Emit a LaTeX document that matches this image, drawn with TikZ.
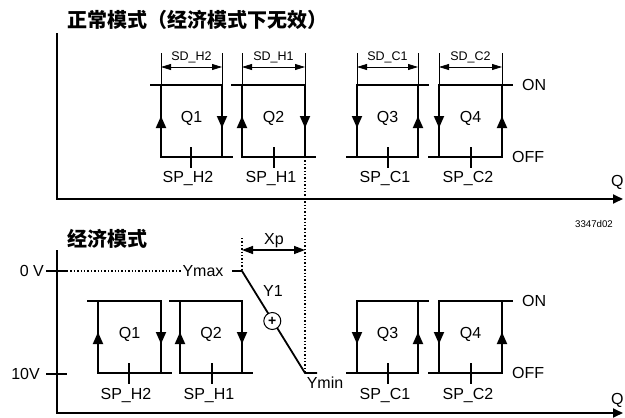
\documentclass[tikz,border=0pt]{standalone}
\usepackage{fontspec}
\setmainfont{Liberation Sans}
\newfontfamily\cjk{Noto Sans CJK SC}
\usetikzlibrary{arrows.meta}

\begin{document}
\begin{tikzpicture}[x=1pt, y=-1pt,
  axis/.style={line width=1.8pt, -{Triangle[length=10pt,width=9pt]}},
  loopline/.style={line width=1.8pt},
  sidearr/.style={line width=1.8pt, -{Triangle[length=12pt,width=10pt]}},
  dim/.style={line width=0.7pt},
  dimarr/.style={line width=0.8pt, {Triangle[length=10pt,width=6pt]}-{Triangle[length=10pt,width=6pt]}},
  spmark/.style={line width=1.2pt},
  guide/.style={dotted, line width=1.4pt},
  lbl/.style={font=\fontsize{16}{18}\selectfont, inner sep=0pt},
  small/.style={font=\fontsize{12.5}{14}\selectfont, inner sep=0pt},
  ttl/.style={font=\cjk\bfseries\fontsize{20}{22}\selectfont, inner sep=0pt, anchor=west},
]
  \useasboundingbox (0,0) rectangle (625,418);

  % titles
  \node[ttl] (ttlnorm) at (67,20) {正常模式（经济模式下无效）};
  \node[ttl] (ttleco)  at (67,239) {经济模式};
  \node[font=\fontsize{9.7}{11}\selectfont, inner sep=0pt] (figno) at (594,224) {3347d02};

  % axes
  \draw[axis] (57,33) -- (57,199) -- (623,199);
  \draw[axis] (57,250) -- (57,413) -- (623,413);
  \node[lbl, anchor=west] (qtop) at (611,182) {Q};
  \node[lbl, anchor=west] (qbot) at (611,400) {Q};

  % heating stages
  \foreach \nm/\l/\r/\sp/\t/\b/\lab/\s in {a/161/222/191/85/157/Q1/H2, b/242/305/274/85/157/Q2/H1,
      e/98/161/129/301/373/Q1/H2, f/180/242/212/301/373/Q2/H1} {
    \draw[loopline] (\l,\t) rectangle (\r,\b);
    \draw[loopline] (\l-11,\t) -- (\l,\t) (\r,\b) -- (\r+11,\b);
    \draw[sidearr] (\l,{(\t+\b)/2+7}) -- (\l,{(\t+\b)/2-5});
    \draw[sidearr] (\r,{(\t+\b)/2-5}) -- (\r,{(\t+\b)/2+7});
    \draw[spmark] (\sp,\b-10) -- (\sp,\b+11);
    \node[lbl] (box\nm) at ({(\l+\r)/2},{(\t+\b)/2-3}) {\lab};
    \node[lbl] (sp\nm) at (\sp-3,\b+22) {SP\_\s};
  }

  % cooling stages
  \foreach \nm/\l/\r/\sp/\t/\b/\lab/\s in {c/357/418/388/85/157/Q3/C1, d/439/502/471/85/157/Q4/C2,
      g/357/418/388/301/373/Q3/C1, h/439/502/471/301/373/Q4/C2} {
    \draw[loopline] (\l,\t) rectangle (\r,\b);
    \draw[loopline] (\r,\t) -- (\r+11,\t) (\l-11,\b) -- (\l,\b);
    \draw[sidearr] (\l,{(\t+\b)/2-5}) -- (\l,{(\t+\b)/2+7});
    \draw[sidearr] (\r,{(\t+\b)/2+7}) -- (\r,{(\t+\b)/2-5});
    \draw[spmark] (\sp,\b-10) -- (\sp,\b+11);
    \node[lbl] (box\nm) at ({(\l+\r)/2},{(\t+\b)/2-3}) {\lab};
    \node[lbl] (sp\nm) at (\sp-3,\b+22) {SP\_\s};
  }
  \draw[line width=2.8pt] (366,373) -- (377,373) (448,373) -- (459,373);

  % switching differentials
  \foreach \l/\r/\s in {161/222/H2, 242/305/H1, 357/418/C1, 439/502/C2} {
    \draw[dim] (\l,53) -- (\l,85) (\r,53) -- (\r,85);
    \draw[dimarr] (\l,67) -- (\r,67);
    \node[small] (sd\s) at ({(\l+\r)/2},57) {SD\_\s};
  }

  % on / off levels
  \foreach \nm/\t/\b in {top/85/157, bot/301/373} {
    \node[lbl, anchor=west] (on\nm) at (522,\t) {ON};
    \node[lbl, anchor=west] (off\nm) at (512,\b) {OFF};
  }

  % economy output
  \draw[loopline] (46,271) -- (67,271) (46,374) -- (67,374);
  \node[lbl, anchor=east] (zerov) at (44,271) {0 V};
  \node[lbl, anchor=east] (tenv) at (40,374) {10V};
  \node[lbl] (ymax) at (203,271) {Ymax};
  \coordinate (ymaxl) at (232,271);
  \coordinate (ymaxr) at (242,271);
  \coordinate (yminl) at (305,373);
  \coordinate (yminr) at (317,373);
  \draw[guide] (67,271) -- (ymax.west);
  \draw[loopline] (ymaxl) -- (ymaxr) -- (yminl) -- (yminr);
  \node[circle, draw, fill=white, line width=1pt, minimum size=17pt, inner sep=0pt,
    font=\bfseries\fontsize{14}{14}\selectfont] (plus) at (272.3,321) {+};
  \node[lbl] (yone) at (273,291) {Y1};
  \node[lbl] (ymin) at (325,383) {Ymin};

  % proportional band
  \draw[guide] (242,238) -- (ymaxr);
  \draw[guide] (305,157) -- (yminl);
  \draw[line width=1.4pt, {Triangle[length=11pt,width=8pt]}-{Triangle[length=11pt,width=8pt]}]
    (242,250) -- (305,250);
  \node[lbl] (xp) at (274,241) {Xp};
\end{tikzpicture}
\end{document}
